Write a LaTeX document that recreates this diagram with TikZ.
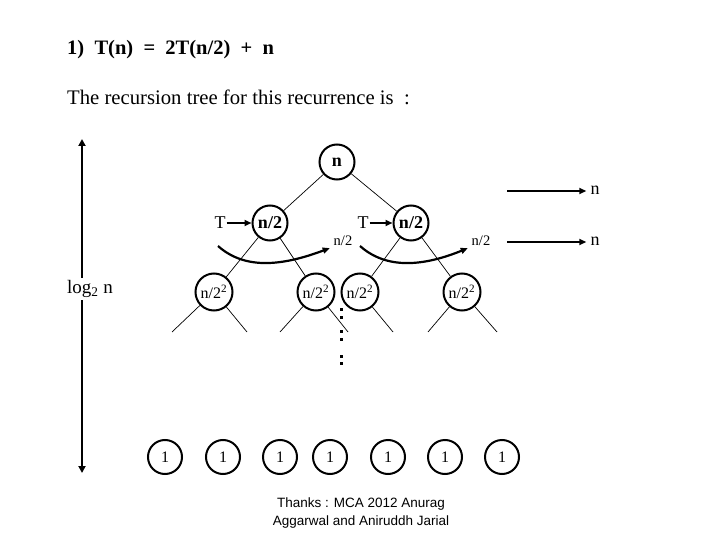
\documentclass[tikz,border=0pt]{standalone}
\usepackage{fontspec}
\setmainfont{Liberation Serif}
\newfontfamily\arialf{Liberation Sans}
\usetikzlibrary{arrows.meta}
\begin{document}
\begin{tikzpicture}[x=1pt,y=-1pt,
  circ/.style={circle, draw, line width=2pt, inner sep=0pt},
  big/.style={circ, minimum size=35pt, font=\fontsize{18}{20}\selectfont\bfseries},
  mid/.style={circ, minimum size=37pt, font=\fontsize{16}{18}\selectfont},
  leaf/.style={circ, minimum size=34pt, font=\fontsize{16}{18}\selectfont},
  edge/.style={line width=0.7pt},
  arr/.style={line width=2.2pt, -{Triangle[length=7pt,width=6pt]}},
  lbl/.style={inner sep=1pt, font=\fontsize{18}{20}\selectfont},
  small/.style={inner sep=1pt, font=\fontsize{14.5}{17}\selectfont}]
\useasboundingbox (0,0) rectangle (720,540);

% header text
\node[anchor=base west, inner sep=0pt, font=\fontsize{20.5}{24}\selectfont\bfseries] (title) at (67,55)
  {1)\ \ T(n)\ \ =\ \ 2T(n/2)\ \ +\ \ n};
\node[anchor=base west, inner sep=0pt, font=\fontsize{20.7}{24}\selectfont] (intro) at (67,105)
  {The recursion tree for this recurrence is\ \ :};

% tree nodes
\node[big] (r) at (337,162) {n};
\node[big] (a) at (270,223) {n/2};
\node[big] (b) at (411,223) {n/2};
\node[mid] (c1) at (214,292) {n/2\textsuperscript{2}};
\node[mid] (c2) at (316,292) {n/2\textsuperscript{2}};
\node[mid] (c3) at (360,292) {n/2\textsuperscript{2}};
\node[mid] (c4) at (462,292) {n/2\textsuperscript{2}};

\draw[edge] (r) -- (a);
\draw[edge] (r) -- (b);
\draw[edge] (a) -- (c1);
\draw[edge] (a) -- (c2);
\draw[edge] (b) -- (c3);
\draw[edge] (b) -- (c4);

\coordinate (d1) at (172,332); \coordinate (d2) at (247,332);
\coordinate (d3) at (280,332); \coordinate (d4) at (348,332);
\coordinate (d6) at (393,332);
\coordinate (d7) at (428,332); \coordinate (d8) at (497,332);
\draw[edge] (c1) -- (d1);
\draw[edge] (c1) -- (d2);
\draw[edge] (c2) -- (d3);
\draw[edge] (c2) -- (d4);
\draw[edge] (c3) -- (d6);
\draw[edge] (c4) -- (d7);
\draw[edge] (c4) -- (d8);

% T arrows
\node[lbl] (t1) at (220,223) {T};
\node[lbl] (t2) at (363,223) {T};
\draw[arr] (t1) -- (a);
\draw[arr] (t2) -- (b);

% n/2 labels and curved arrows
\node[small] (h1) at (343,241) {n/2};
\node[small] (h2) at (481,241) {n/2};
\coordinate (s1) at (218,246);
\coordinate (s2) at (360,246);
\draw[arr, shorten >=3pt] (s1) .. controls (245,270) and (282,266) .. (h1.south west);
\draw[arr, shorten >=3pt] (s2) .. controls (387,270) and (424,266) .. (h2.south west);

% right side arrows
\node[lbl] (n1) at (595,190) {n};
\node[lbl] (n2) at (595,241) {n};
\coordinate (e1) at (507,191);
\coordinate (e2) at (507,242);
\draw[arr, shorten >=3pt] (e1) -- (n1.west |- e1);
\draw[arr, shorten >=3pt] (e2) -- (n2.west |- e2);

% left height arrow
\coordinate (vt) at (82,139);
\coordinate (vb) at (82,473);
\draw[line width=2.4pt, {Triangle[length=7pt,width=7pt]}-{Triangle[length=7pt,width=7pt]}] (vt) -- (vb);
\node[fill=white, inner sep=2pt, font=\fontsize{19}{21}\selectfont] (lg) at (90,289) {log\textsubscript{2} n};

% dots
\foreach \yy in {311,319,333,341,358,365}
  \fill (339.5,\yy) rectangle +(3.5,-3.5);

% leaves
\foreach \xx [count=\i] in {165,223,280,330,388,445,502}
  \node[leaf] (l\i) at (\xx,457) {1};

% credit
\node[align=center, inner sep=0pt, font=\arialf\fontsize{13.5}{18}\selectfont] (cr) at (361,513)
  {Thanks : MCA 2012 Anurag\\Aggarwal and Aniruddh Jarial};
\end{tikzpicture}
\end{document}
